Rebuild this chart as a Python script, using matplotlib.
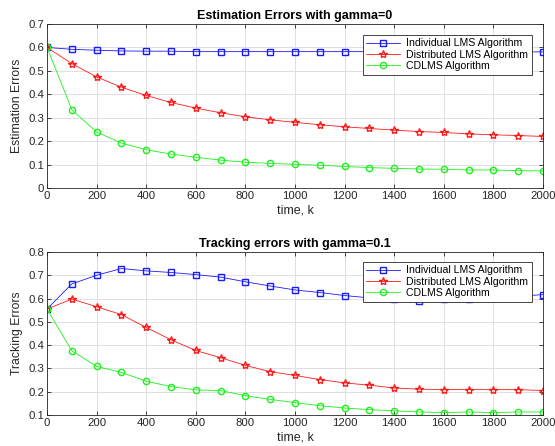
import matplotlib
matplotlib.use("Agg")
import matplotlib.pyplot as plt

plt.rcParams['font.family'] = ['Liberation Sans', 'DejaVu Sans']

k = [0, 100, 200, 300, 400, 500, 600, 700, 800, 900, 1000,
     1100, 1200, 1300, 1400, 1500, 1600, 1700, 1800, 1900, 2000]

est_individual = [0.600, 0.592, 0.588, 0.585, 0.584, 0.584, 0.582, 0.582, 0.582, 0.582, 0.582,
                  0.582, 0.582, 0.582, 0.582, 0.582, 0.582, 0.582, 0.582, 0.581, 0.581]
est_distributed = [0.600, 0.531, 0.474, 0.430, 0.395, 0.365, 0.341, 0.321, 0.304, 0.291, 0.280,
                   0.270, 0.261, 0.254, 0.247, 0.241, 0.237, 0.231, 0.227, 0.224, 0.220]
est_cdlms = [0.600, 0.334, 0.239, 0.192, 0.163, 0.145, 0.131, 0.119, 0.110, 0.105, 0.101,
             0.097, 0.092, 0.087, 0.084, 0.081, 0.080, 0.077, 0.077, 0.074, 0.073]

trk_individual = [0.555, 0.663, 0.700, 0.729, 0.719, 0.712, 0.703, 0.692, 0.672, 0.654, 0.637,
                  0.626, 0.613, 0.603, 0.597, 0.590, 0.597, 0.600, 0.605, 0.610, 0.617]
trk_distributed = [0.555, 0.598, 0.565, 0.531, 0.476, 0.423, 0.377, 0.346, 0.313, 0.286, 0.270,
                   0.252, 0.238, 0.228, 0.216, 0.211, 0.209, 0.209, 0.209, 0.209, 0.205]
trk_cdlms = [0.555, 0.376, 0.309, 0.283, 0.245, 0.222, 0.208, 0.205, 0.183, 0.167, 0.153,
             0.140, 0.130, 0.123, 0.118, 0.113, 0.110, 0.113, 0.110, 0.113, 0.113]

labels = ['Individual LMS Algorithm', 'Distributed LMS Algorithm', 'CDLMS Algorithm']
titles = ['Estimation Errors with gamma=0', 'Tracking errors with gamma=0.1']
ylabels = ['Estimation Errors', 'Tracking Errors']
xticks = [0, 200, 400, 600, 800, 1000, 1200, 1400, 1600, 1800, 2000]
yticks_top = [0, 0.1, 0.2, 0.3, 0.4, 0.5, 0.6, 0.7]
yticks_bot = [0.1, 0.2, 0.3, 0.4, 0.5, 0.6, 0.7, 0.8]

W, H = 555, 446
fig = plt.figure(figsize=(W / 100, H / 100), dpi=100)

ax_pos = [[47 / W, 1 - 188 / H, 496 / W, 164 / H],
          [47 / W, 1 - 415 / H, 496 / W, 163 / H]]

datasets = [(est_individual, est_distributed, est_cdlms),
            (trk_individual, trk_distributed, trk_cdlms)]
yticks_all = [yticks_top, yticks_bot]
leg_anchor = [(0.978, 0.935), (0.978, 0.940)]

styles = [dict(color=(0.1, 0.1, 1.0), marker='s', ms=4.2),
          dict(color=(1.0, 0.1, 0.1), marker='*', ms=6.0),
          dict(color=(0.1, 0.95, 0.1), marker='o', ms=4.5)]

dark = (0.15, 0.15, 0.15)
for i in range(2):
    ax = fig.add_axes(ax_pos[i])
    for series, lab, st in zip(datasets[i], labels, styles):
        ax.plot(k, series, color=st['color'], lw=0.6, marker=st['marker'],
                ms=st['ms'], mfc='none', mec=st['color'], mew=1.0, label=lab)
    ax.set_xlim(0, 2000)
    yt = yticks_all[i]
    ax.set_ylim(yt[0], yt[-1])
    ax.set_xticks(xticks)
    ax.set_yticks(yt)
    ax.set_xticklabels([str(t) for t in xticks])
    ax.set_yticklabels(['0' if t == 0 else f'{t:.1f}' for t in yt])
    ax.grid(True, color=(0.88, 0.88, 0.88), lw=0.7)
    ax.set_axisbelow(True)
    ax.tick_params(direction='in', top=True, right=True, length=3, width=0.6,
                   colors=dark, labelsize=8.2, pad=2)
    for sp in ax.spines.values():
        sp.set_color(dark)
        sp.set_linewidth(0.6)
    ax.set_title(titles[i], fontsize=9, fontweight='bold', color='black', pad=3.5)
    ax.set_xlabel('time, k', fontsize=9, color=dark, labelpad=2.5)
    ax.set_ylabel(ylabels[i], fontsize=8.8, color=dark, labelpad=4)
    leg = ax.legend(loc='upper right', bbox_to_anchor=leg_anchor[i], fontsize=7.6,
                    fancybox=False, framealpha=1, edgecolor=dark,
                    handlelength=3.2, borderpad=0.35, labelspacing=0.12,
                    handletextpad=0.6, borderaxespad=0)
    leg.get_frame().set_linewidth(0.6)

fig.savefig('out.png', dpi=100)
